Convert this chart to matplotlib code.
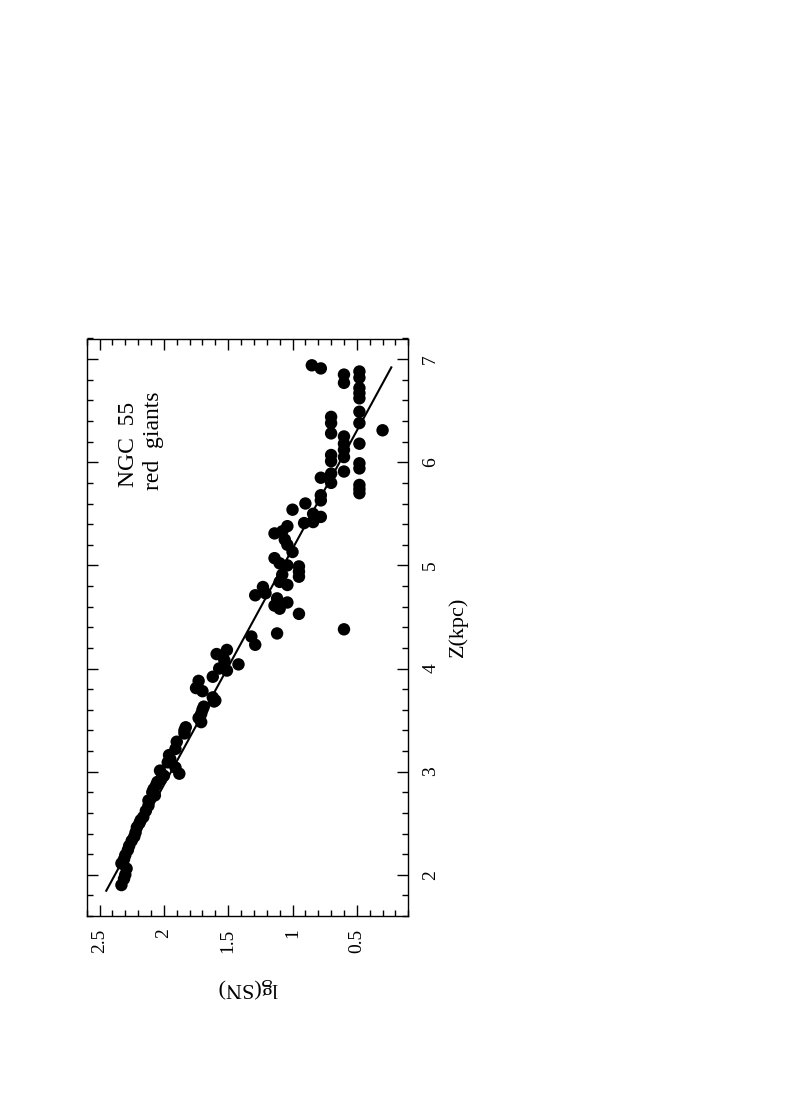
import matplotlib
matplotlib.use("Agg")
import matplotlib.pyplot as plt
from matplotlib.ticker import MultipleLocator

# ---- data (Z in kpc, lg(SN)) ----
z_kpc = [6.94, 6.91, 6.85, 6.77, 6.88, 6.82, 6.72, 6.67, 6.62, 6.49, 6.38,
         6.44, 6.38, 6.28, 6.31, 6.25, 6.18, 6.12, 6.05, 6.18, 6.07, 6.01,
         5.99, 5.94, 5.91, 5.89, 5.85, 5.78, 5.70, 5.74, 5.80, 5.68, 5.63,
         5.60, 5.54, 5.50, 5.47, 5.41, 5.42, 5.38, 5.31, 5.33, 5.25, 5.20,
         5.13, 4.99, 4.94, 4.89, 5.07, 5.02, 5.00, 4.91, 4.84, 4.81, 4.79,
         4.71, 4.73, 4.68, 4.61, 4.64, 4.58, 4.53, 4.34, 4.38, 4.31, 4.23,
         4.14, 4.18, 4.08, 4.04, 4.00, 3.98, 3.92, 3.88, 3.81, 3.78, 3.72,
         3.69, 3.63, 3.56, 3.52, 3.68, 3.48, 3.43, 3.37, 3.29, 3.22, 3.16,
         3.09, 3.04, 2.98, 2.96, 2.90, 2.83, 2.77, 2.67, 2.72, 2.62, 2.56,
         2.46, 2.37, 2.28, 2.19, 2.11, 2.06, 1.96, 1.90, 2.53, 2.33, 3.01,
         2.87, 2.80, 2.50, 2.41, 2.24, 2.15, 2.00, 3.12, 3.40, 3.60, 2.93]
lg_sn = [0.85, 0.78, 0.60, 0.60, 0.48, 0.48, 0.48, 0.48, 0.48, 0.48, 0.48,
         0.70, 0.70, 0.70, 0.30, 0.60, 0.60, 0.60, 0.60, 0.48, 0.70, 0.70,
         0.48, 0.48, 0.60, 0.70, 0.78, 0.48, 0.48, 0.48, 0.70, 0.78, 0.78,
         0.90, 1.00, 0.84, 0.78, 0.91, 0.84, 1.04, 1.14, 1.08, 1.06, 1.04,
         1.00, 0.95, 0.95, 0.95, 1.14, 1.10, 1.04, 1.08, 1.10, 1.04, 1.23,
         1.29, 1.21, 1.12, 1.14, 1.04, 1.10, 0.95, 1.12, 0.60, 1.32, 1.29,
         1.59, 1.51, 1.53, 1.42, 1.57, 1.51, 1.62, 1.73, 1.75, 1.70, 1.62,
         1.60, 1.69, 1.71, 1.73, 1.61, 1.71, 1.83, 1.84, 1.90, 1.91, 1.96,
         1.97, 1.91, 1.88, 2.00, 2.05, 2.08, 2.07, 2.12, 2.12, 2.14, 2.16,
         2.21, 2.23, 2.27, 2.30, 2.33, 2.29, 2.31, 2.33, 2.18, 2.25, 2.03,
         2.06, 2.09, 2.19, 2.22, 2.28, 2.31, 2.30, 1.95, 1.84, 1.70, 2.02]

fit_z = [1.845, 6.92]
fit_lg = [2.448, 0.232]

z_ticks = [2, 3, 4, 5, 6, 7]
lg_ticks = [0.5, 1.0, 1.5, 2.0, 2.5]
lg_ticklabels = ["0.5", "1", "1.5", "2", "2.5"]

FONT = "Liberation Serif"

fig = plt.figure(figsize=(7.95, 11), dpi=100)
# page is rotated: Z runs upward, lg(SN) runs right-to-left
ax = fig.add_axes([86.7 / 795, 1 - 916 / 1100, (408.3 - 86.7) / 795, (916 - 338.5) / 1100])

ax.scatter(lg_sn, z_kpc, s=80, c="black", edgecolors="none", zorder=3)
ax.plot(fit_lg, fit_z, color="black", lw=1.5, zorder=2)

ax.set_xlim(2.6, 0.1)
ax.set_ylim(1.6, 7.2)

ax.set_xticks(lg_ticks)
ax.set_xticklabels(lg_ticklabels)
ax.xaxis.set_minor_locator(MultipleLocator(0.1))
ax.set_yticks(z_ticks)
ax.yaxis.set_minor_locator(MultipleLocator(0.2))

ax.tick_params(which="both", direction="in", top=True, bottom=True,
               left=True, right=True, labelleft=False, labelright=True,
               width=1.0, colors="black")
ax.tick_params(which="major", length=8)
ax.tick_params(which="minor", length=4.3)
ax.tick_params(axis="x", which="major", pad=9)
ax.tick_params(axis="y", which="major", pad=10)

for lab in ax.get_xticklabels():
    lab.set_rotation(90)
    lab.set_fontfamily(FONT)
    lab.set_fontsize(14)
    lab.set_va("top")
    lab.set_ha("center")
for lab in ax.get_yticklabels():
    lab.set_rotation(90)
    lab.set_fontfamily(FONT)
    lab.set_fontsize(14)
    lab.set_va("center")
    lab.set_ha("left")

for sp in ax.spines.values():
    sp.set_linewidth(1.0)

ax.set_xlabel("lg(SN)", fontfamily=FONT, fontsize=16, rotation=180, va="center")
ax.xaxis.set_label_coords(0.5, -0.125)
ax.yaxis.set_label_position("right")
ax.set_ylabel("Z(kpc)", fontfamily=FONT, fontsize=16, rotation=90, va="center")
ax.yaxis.set_label_coords(1.155, 0.5)

ax.text(2.276, 6.17, "NGC  55", rotation=90, ha="center", va="center",
        fontfamily=FONT, fontsize=17)
ax.text(2.08, 6.21, "red  giants", rotation=90, ha="center", va="center",
        fontfamily=FONT, fontsize=17)

fig.savefig("out.png", dpi=100)
